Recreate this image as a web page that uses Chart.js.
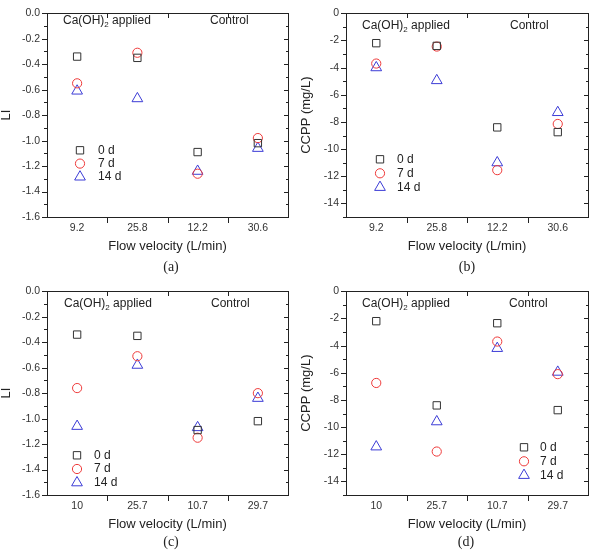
<!DOCTYPE html>
<html><head><meta charset="utf-8">
<script src="https://cdn.jsdelivr.net/npm/chart.js@4.4.0/dist/chart.umd.min.js"></script>
<style>
html,body{margin:0;padding:0;background:#fff;width:597px;height:551px;overflow:hidden;}
canvas{position:absolute;}
.fr{position:absolute;background:#222;}
</style></head><body>
<canvas id="ca" width="297" height="275" style="left:0;top:0"></canvas>
<canvas id="cb" width="300" height="275" style="left:297px;top:0"></canvas>
<canvas id="cc" width="297" height="273" style="left:0;top:278px"></canvas>
<canvas id="cd" width="300" height="273" style="left:297px;top:278px"></canvas>
<script>
// ---- data ----
const catsAB = ['9.2', '25.8', '12.2', '30.6'];
const catsCD = ['10', '25.7', '10.7', '29.7'];
const seriesNames = ['0 d', '7 d', '14 d'];

const liA_0d = [-0.34, -0.35, -1.09, -1.02];
const liA_7d = [-0.55, -0.31, -1.26, -0.98];
const liA_14d = [-0.61, -0.67, -1.24, -1.06];

const ccppB_0d = [-2.2, -2.4, -8.4, -8.75];
const ccppB_7d = [-3.7, -2.45, -11.55, -8.15];
const ccppB_14d = [-4.0, -4.95, -11.0, -7.3];

const liC_0d = [-0.34, -0.35, -1.09, -1.02];
const liC_7d = [-0.76, -0.51, -1.15, -0.80];
const liC_14d = [-1.06, -0.58, -1.07, -0.84];

const ccppD_0d = [-2.2, -8.4, -2.35, -8.75];
const ccppD_7d = [-6.75, -11.8, -3.7, -6.1];
const ccppD_14d = [-11.45, -9.6, -4.2, -5.95];

const liTickLabels = ['0.0', '-0.2', '-0.4', '-0.6', '-0.8', '-1.0', '-1.2', '-1.4', '-1.6'];
const ccppTickLabels = ['0', '-2', '-4', '-6', '-8', '-10', '-12', '-14'];
const captions = ['(a)', '(b)', '(c)', '(d)'];

// ---- styles ----
const SANS = '"Liberation Sans", Arial, sans-serif';
const SERIF = '"Liberation Serif", "DejaVu Serif", serif';
const INK = '#222222';
const styles = [
  {pointStyle: 'rect', color: '#333333', radius: 5.2},
  {pointStyle: 'circle', color: '#ee3a3a', radius: 4.6},
  {pointStyle: 'triangle', color: '#3c3cd6', radius: 6.2}
];

const textPlugin = {
  id: 'notes',
  afterDraw(chart, args, opts) {
    const {ctx, chartArea: a} = chart;
    ctx.save();
    ctx.fillStyle = INK;
    ctx.textBaseline = 'middle';
    ctx.textAlign = 'left';
    const ty = a.top + opts.textY;
    let tx = a.left + opts.caX;
    ctx.font = '12px ' + SANS;
    ctx.fillText('Ca(OH)', tx, ty);
    tx += ctx.measureText('Ca(OH)').width;
    ctx.font = '8px ' + SANS;
    ctx.fillText('2', tx, ty + 4);
    tx += ctx.measureText('2').width;
    ctx.font = '12px ' + SANS;
    ctx.fillText(' applied', tx, ty);
    ctx.fillText('Control', a.left + opts.ctrlX, ty);
    chart.data.datasets.forEach((ds, i) => {
      const cy = a.top + opts.lgY + i * opts.lgDy;
      const cx = a.left + opts.lgX;
      ctx.strokeStyle = ds.pointBorderColor;
      ctx.fillStyle = 'rgba(0,0,0,0)';
      ctx.lineWidth = 1;
      Chart.helpers.drawPoint(ctx, {pointStyle: ds.pointStyle, radius: ds.pointRadius, rotation: 0, borderWidth: 1}, cx, cy);
      ctx.fillStyle = INK;
      ctx.font = '12px ' + SANS;
      ctx.fillText(ds.label, a.left + opts.lgTx, cy);
    });
    ctx.font = '14px ' + SERIF;
    ctx.textAlign = 'center';
    ctx.fillText(opts.caption, (a.left + a.right) / 2 + opts.capDx, a.bottom + opts.capDy);
    ctx.restore();
  }
};

// frame and tick marks placed from the chart's own scales
function addFrame(chart, offX, offY, minorStep, majorStep) {
  try {
    const a = chart.chartArea, x = chart.scales.x, y = chart.scales.y;
    const L = Math.round(a.left) + offX, R = Math.round(a.right) + offX;
    const T = Math.round(a.top) + offY, B = Math.round(a.bottom) + offY;
    const mk = (l, t, w, h) => {
      const d = document.createElement('div');
      d.className = 'fr';
      d.style.left = l + 'px'; d.style.top = t + 'px';
      d.style.width = w + 'px'; d.style.height = h + 'px';
      document.body.appendChild(d);
    };
    mk(L, T, R - L + 1, 1);
    mk(L, B, R - L + 1, 1);
    mk(L, T, 1, B - T + 1);
    mk(R, T, 1, B - T + 1);
    const n = Math.round((y.max - y.min) / minorStep);
    for (let i = 0; i <= n; i++) {
      const v = y.min + i * minorStep;
      const r = v / majorStep;
      const len = Math.abs(r - Math.round(r)) < 1e-6 ? 5 : 3;
      const py = Math.round(y.getPixelForValue(v)) + offY;
      mk(L - len, py, len, 1);
      mk(R - len + 1, py, len, 1);
    }
    const cnt = x.getLabels().length;
    for (let i = 0; i < cnt - 1; i++) {
      const px = Math.round((x.getPixelForValue(i) + x.getPixelForValue(i + 1)) / 2) + offX;
      mk(px, B + 1, 1, 5);
      mk(px, T, 1, 5);
    }
  } catch (e) {}
}

function makeChart(id, cats, series, tickLabels, yTitle, yMin, yWidth, padRight, padTop, padBottom, titlePad, noteOpts) {
  const tickValues = tickLabels.map(Number);
  return new Chart(document.getElementById(id), {
    type: 'line',
    data: {
      labels: cats,
      datasets: series.map((vals, i) => ({
        label: seriesNames[i],
        data: vals,
        showLine: false,
        pointStyle: styles[i].pointStyle,
        pointRadius: styles[i].radius,
        pointHoverRadius: styles[i].radius,
        pointBorderColor: styles[i].color,
        pointBackgroundColor: 'rgba(0,0,0,0)',
        pointBorderWidth: 1,
        borderColor: styles[i].color
      }))
    },
    options: {
      responsive: false,
      animation: false,
      events: [],
      layout: {padding: {left: 0, top: padTop, right: padRight, bottom: padBottom}},
      plugins: {legend: {display: false}, tooltip: {enabled: false}, notes: noteOpts},
      scales: {
        x: {
          type: 'category',
          offset: true,
          grid: {display: false, drawTicks: false},
          border: {display: false},
          ticks: {font: {family: SANS, size: 10.5}, color: '#333', padding: 5, maxRotation: 0, autoSkip: false},
          title: {display: true, text: 'Flow velocity (L/min)', font: {family: SANS, size: 13}, color: INK, padding: 0},
          afterFit: s => { s.height = 37; }
        },
        y: {
          type: 'linear',
          min: yMin,
          max: 0,
          grid: {display: false, drawTicks: false},
          border: {display: false},
          afterBuildTicks: s => { s.ticks = tickValues.map(v => ({value: v})); },
          ticks: {
            font: {family: SANS, size: 10.5}, color: '#333', padding: 7,
            callback: v => { const k = tickValues.findIndex(t => Math.abs(t - v) < 1e-9); return k >= 0 ? tickLabels[k] : ''; }
          },
          title: {display: true, text: yTitle, font: {family: SANS, size: 13, lineHeight: 1}, color: INK, padding: {top: titlePad, bottom: 0}},
          afterFit: s => { s.width = yWidth; }
        }
      }
    },
    plugins: [textPlugin]
  });
}

const chA = makeChart('ca', catsAB, [liA_0d, liA_7d, liA_14d], liTickLabels, 'LI', -1.6, 47, 9, 7, 21, 0,
  {caX: 16, ctrlX: 163, textY: 7.5, lgX: 33, lgTx: 51, lgY: 137, lgDy: 13.3, caption: captions[0], capDx: 3.5, capDy: 50});
const chB = makeChart('cb', catsAB, [ccppB_0d, ccppB_7d, ccppB_14d], ccppTickLabels, 'CCPP (mg/L)', -15, 49, 9, 7, 21, 3,
  {caX: 16, ctrlX: 164, textY: 12, lgX: 34, lgTx: 51, lgY: 146, lgDy: 14, caption: captions[1], capDx: 0, capDy: 50});
const chC = makeChart('cc', catsCD, [liC_0d, liC_7d, liC_14d], liTickLabels, 'LI', -1.6, 47, 9, 7, 19, 0,
  {caX: 17, ctrlX: 164, textY: 12.7, lgX: 30, lgTx: 47, lgY: 164, lgDy: 13.7, caption: captions[2], capDx: 3.5, capDy: 47});
const chD = makeChart('cd', catsCD, [ccppD_0d, ccppD_7d, ccppD_14d], ccppTickLabels, 'CCPP (mg/L)', -15, 49, 9, 7, 19, 3,
  {caX: 16, ctrlX: 163, textY: 12.7, lgX: 178, lgTx: 194, lgY: 156, lgDy: 14, caption: captions[3], capDx: -1, capDy: 47});

addFrame(chA, 0, 0, 0.1, 0.2);
addFrame(chB, 297, 0, 1, 2);
addFrame(chC, 0, 278, 0.1, 0.2);
addFrame(chD, 297, 278, 1, 2);
</script>
</body></html>
